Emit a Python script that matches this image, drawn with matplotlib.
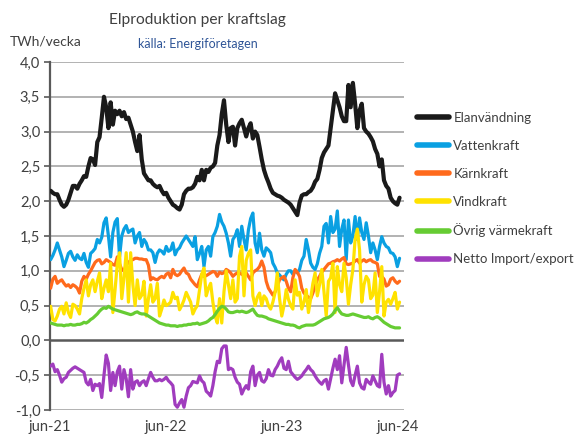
import matplotlib
matplotlib.use("Agg")
import matplotlib.pyplot as plt
from matplotlib.ticker import FuncFormatter
import pandas as pd

plt.rcParams['font.family'] = ['Lato', 'DejaVu Sans']

start_date = "2021-06-03"

elanvandning = [2.15, 2.12, 2.1, 2.1, 2.02, 1.95, 1.92, 1.95, 2.02, 2.12, 2.22, 2.22, 2.18, 2.25, 2.3, 2.36,
                2.35, 2.5, 2.62, 2.6, 2.52, 2.85, 2.92, 3.2, 3.5, 3.35, 3.05, 3.42, 3.1, 3.3, 3.25, 3.3,
                3.22, 3.28, 3.18, 3.2, 3.1, 3.0, 2.85, 2.72, 2.95, 2.6, 2.4, 2.35, 2.3, 2.3, 2.25, 2.22,
                2.2, 2.22, 2.15, 2.1, 2.12, 2.05, 2.0, 1.95, 1.93, 1.9, 1.88, 1.95, 2.1, 2.15, 2.18, 2.18,
                2.2, 2.25, 2.35, 2.3, 2.45, 2.3, 2.45, 2.42, 2.48, 2.5, 2.55, 2.8, 2.95, 3.25, 3.45, 3.1,
                2.85, 3.05, 3.07, 2.8, 3.05, 3.12, 3.17, 3.05, 2.93, 3.05, 3.12, 2.9, 3.0, 2.95, 2.78, 2.6,
                2.45, 2.35, 2.27, 2.18, 2.12, 2.1, 2.08, 2.07, 2.05, 2.02, 2.0, 1.98, 1.95, 1.9, 1.85, 1.8,
                1.98, 2.08, 2.1, 2.1, 2.13, 2.15, 2.2, 2.28, 2.32, 2.45, 2.62, 2.7, 2.75, 2.8, 3.05, 3.3,
                3.55, 3.45, 3.35, 3.22, 3.15, 3.15, 3.67, 3.35, 3.7, 3.4, 3.05, 3.3, 3.4, 3.05, 3.0, 2.97,
                2.92, 2.86, 2.75, 2.68, 2.5, 2.6, 2.3, 2.22, 2.18, 2.05, 2.0, 1.97, 1.95, 2.05]

vattenkraft = [1.16, 1.22, 1.3, 1.4, 1.3, 1.2, 1.06, 1.15, 1.25, 1.28, 1.2, 1.15, 1.23, 1.18, 1.16, 1.25,
               1.12, 1.05, 1.25, 1.28, 1.32, 1.45, 1.4, 1.48, 1.69, 1.76, 1.5, 1.2, 1.55, 1.7, 1.75, 1.2,
               1.5, 1.6, 1.65, 1.55, 1.58, 1.6, 1.4, 1.5, 1.55, 1.35, 1.45, 1.4, 1.3, 1.3, 1.26, 1.12,
               1.25, 1.3, 1.28, 1.24, 1.35, 1.28, 1.3, 1.4, 1.23, 1.3, 1.33, 1.4, 1.45, 1.5, 1.45, 1.4,
               1.35, 1.49, 1.16, 1.25, 1.35, 1.06, 1.3, 1.35, 1.21, 1.49, 1.55, 1.64, 1.81, 1.7, 1.64, 1.54,
               1.4, 1.21, 1.45, 1.5, 1.59, 1.35, 1.64, 1.45, 1.3, 1.59, 1.75, 1.83, 1.4, 1.26, 1.54, 1.3,
               1.21, 1.33, 1.3, 1.26, 1.11, 1.05, 0.97, 0.94, 0.9, 0.87, 0.95, 1.0, 1.0, 0.95, 1.0, 0.97,
               1.02, 1.15, 1.21, 1.45, 1.3, 1.11, 1.05, 1.02, 1.1, 1.25, 1.35, 1.64, 1.68, 1.4, 1.78, 1.55,
               1.6, 1.86, 1.35, 1.6, 1.73, 1.16, 1.73, 1.4, 1.5, 1.78, 1.45, 1.76, 1.55, 1.45, 1.69, 1.5,
               1.26, 1.4, 1.3, 1.16, 1.35, 1.49, 1.4, 1.35, 1.33, 1.26, 1.25, 1.2, 1.06, 1.18]

karnkraft = [0.75, 0.88, 0.92, 0.82, 0.85, 0.87, 0.82, 0.78, 0.8, 0.76, 0.8, 0.78, 0.75, 0.68, 0.85, 0.92,
             0.88, 0.95, 1.0, 1.06, 1.12, 1.15, 1.16, 1.1, 1.12, 1.16, 1.14, 1.12, 1.09, 1.08, 1.2, 1.1,
             1.02, 1.0, 1.08, 1.12, 1.15, 1.16, 1.18, 1.18, 1.17, 1.17, 1.16, 1.16, 1.08, 0.87, 0.9, 0.88,
             0.87, 0.9, 0.92, 0.9, 0.95, 0.97, 0.9, 1.02, 0.95, 0.93, 0.95, 1.0, 1.04, 0.97, 0.95, 0.88,
             0.84, 0.8, 0.77, 0.87, 0.95, 0.92, 0.93, 0.95, 0.97, 0.99, 0.98, 0.92, 0.98, 0.96, 0.97, 1.02,
             1.0, 0.97, 0.92, 0.95, 0.97, 0.97, 0.95, 0.93, 0.97, 0.92, 0.87, 0.97, 1.0, 1.02, 1.06, 1.14,
             1.05, 0.85, 0.75, 0.7, 0.65, 0.7, 0.78, 0.87, 0.9, 0.92, 0.85, 0.75, 0.7, 0.9, 1.02, 0.98,
             0.92, 0.75, 0.68, 0.65, 0.62, 0.6, 0.68, 0.78, 0.87, 0.92, 0.98, 1.02, 1.06, 1.1, 1.11, 1.13,
             1.14, 1.16, 1.14, 1.17, 1.19, 1.1, 1.09, 1.1, 1.11, 1.14, 1.16, 1.11, 1.14, 1.16, 1.13, 1.15,
             1.16, 1.13, 1.12, 1.1, 0.92, 0.92, 0.88, 0.78, 0.8, 0.88, 0.9, 0.85, 0.82, 0.85]

vindkraft = [0.49, 0.3, 0.28, 0.35, 0.45, 0.49, 0.38, 0.54, 0.4, 0.33, 0.52, 0.5, 0.45, 0.38, 0.6, 0.75,
             0.87, 0.64, 0.8, 0.87, 0.7, 0.85, 0.97, 0.6, 0.75, 0.87, 0.7, 1.11, 0.4, 0.73, 1.1, 1.26,
             0.6, 0.9, 1.26, 0.55, 1.26, 0.8, 0.5, 0.87, 0.6, 0.65, 0.85, 0.35, 0.6, 0.8, 0.55, 0.6,
             0.82, 0.35, 0.45, 0.58, 0.5, 0.52, 0.55, 0.69, 0.6, 0.62, 0.44, 0.5, 0.58, 0.69, 0.62, 0.55,
             0.38, 0.45, 0.5, 0.73, 0.95, 1.04, 0.64, 0.75, 0.82, 0.55, 0.35, 0.25, 0.6, 0.25, 0.7, 1.0,
             0.8, 0.6, 0.87, 0.55, 0.6, 1.21, 1.35, 0.64, 1.15, 1.25, 1.3, 0.64, 0.5, 0.62, 0.68, 0.5,
             0.64, 0.6, 0.5, 0.45, 0.55, 0.69, 0.97, 0.6, 0.35, 0.5, 0.73, 0.59, 0.5, 0.45, 0.87, 0.65,
             0.69, 0.45, 0.55, 0.73, 0.4, 0.6, 0.82, 0.97, 0.64, 0.8, 1.02, 0.7, 0.35, 0.85, 0.9, 1.11,
             0.4, 1.06, 0.8, 0.7, 1.11, 0.9, 0.52, 0.8, 1.02, 1.45, 1.6, 1.3, 0.55, 0.8, 0.92, 0.87,
             0.6, 0.65, 0.97, 0.4, 0.7, 1.06, 0.35, 0.55, 0.59, 0.52, 0.6, 0.69, 0.45, 0.55]

ovrig_varmekraft = [0.25, 0.24, 0.23, 0.22, 0.22, 0.22, 0.21, 0.22, 0.22, 0.23, 0.22, 0.22, 0.23, 0.23, 0.24, 0.26,
                    0.25, 0.27, 0.3, 0.32, 0.35, 0.38, 0.42, 0.45, 0.47, 0.46, 0.49, 0.47, 0.45, 0.44, 0.43, 0.42,
                    0.41, 0.4, 0.39, 0.38, 0.37, 0.38, 0.4, 0.41, 0.39, 0.38, 0.38, 0.37, 0.35, 0.33, 0.31, 0.29,
                    0.27, 0.25, 0.24, 0.23, 0.22, 0.22, 0.21, 0.21, 0.21, 0.2, 0.21, 0.21, 0.22, 0.22, 0.23, 0.23,
                    0.24, 0.24, 0.25, 0.23, 0.24, 0.25, 0.26, 0.28, 0.31, 0.33, 0.37, 0.42, 0.46, 0.49, 0.48, 0.45,
                    0.41, 0.4, 0.4, 0.41, 0.42, 0.41, 0.42, 0.41, 0.4, 0.41, 0.43, 0.45, 0.4, 0.36, 0.35, 0.35,
                    0.34, 0.33, 0.31, 0.3, 0.29, 0.28, 0.27, 0.26, 0.25, 0.24, 0.23, 0.23, 0.22, 0.22, 0.21, 0.19,
                    0.18, 0.2, 0.21, 0.22, 0.22, 0.22, 0.22, 0.23, 0.25, 0.27, 0.29, 0.31, 0.32, 0.33, 0.35, 0.38,
                    0.43, 0.47, 0.42, 0.38, 0.37, 0.36, 0.36, 0.37, 0.38, 0.37, 0.36, 0.35, 0.34, 0.33, 0.33, 0.34,
                    0.32, 0.31, 0.33, 0.34, 0.32, 0.29, 0.26, 0.24, 0.22, 0.2, 0.19, 0.18, 0.18, 0.18]

netto_import_export = [-0.37, -0.34, -0.45, -0.42, -0.5, -0.6, -0.55, -0.53, -0.46, -0.43, -0.4, -0.38, -0.4, -0.42, -0.44, -0.46,
                       -0.6, -0.64, -0.56, -0.72, -0.63, -0.65, -0.62, -0.82, -0.5, -0.21, -0.33, -0.72, -0.46, -0.65, -0.45, -0.37,
                       -0.7, -0.42, -0.55, -0.81, -0.42, -0.7, -0.6, -0.58, -0.65, -0.6, -0.58, -0.65, -0.55, -0.46, -0.53, -0.58,
                       -0.58, -0.56, -0.58, -0.56, -0.53, -0.58, -0.61, -0.65, -0.92, -0.96, -0.9, -0.85, -0.96, -0.8, -0.68, -0.65,
                       -0.59, -0.6, -0.61, -0.51, -0.58, -0.61, -0.73, -0.76, -0.8, -0.65, -0.45, -0.3, -0.32, -0.12, -0.08, -0.08,
                       -0.42, -0.4, -0.42, -0.53, -0.6, -0.63, -0.77, -0.7, -0.65, -0.7, -0.45, -0.37, -0.65, -0.5, -0.46, -0.58,
                       -0.6, -0.55, -0.42, -0.5, -0.51, -0.42, -0.37, -0.3, -0.25, -0.4, -0.42, -0.3, -0.45, -0.49, -0.53, -0.56,
                       -0.54, -0.51, -0.46, -0.42, -0.37, -0.42, -0.45, -0.51, -0.56, -0.6, -0.63, -0.58, -0.56, -0.7, -0.55, -0.4,
                       -0.27, -0.42, -0.22, -0.61, -0.35, -0.1, -0.35, -0.58, -0.65, -0.5, -0.37, -0.61, -0.68, -0.7, -0.56, -0.6,
                       -0.63, -0.51, -0.58, -0.65, -0.67, -0.2, -0.6, -0.77, -0.65, -0.8, -0.75, -0.72, -0.5, -0.48]

series_names = ["Elanvändning", "Vattenkraft", "Kärnkraft", "Vindkraft", "Övrig värmekraft", "Netto Import/export"]
series_colors = ["#1a1a1a", "#0aa0e2", "#ff6a1c", "#ffe200", "#66cc33", "#a03cbe"]
series_widths = [3.0, 2.3, 2.3, 2.3, 2.3, 2.3]

x_tick_dates = ["2021-06-01", "2022-06-01", "2023-06-01", "2024-06-01"]
x_tick_labels = ["jun-21", "jun-22", "jun-23", "jun-24"]
y_ticks = [-1.0, -0.5, 0.0, 0.5, 1.0, 1.5, 2.0, 2.5, 3.0, 3.5, 4.0]

all_series = [elanvandning, vattenkraft, karnkraft, vindkraft, ovrig_varmekraft, netto_import_export]
n = len(elanvandning)
dates = pd.date_range(start_date, periods=n, freq="7D")

W, H = 579, 436
fig = plt.figure(figsize=(W / 100, H / 100), dpi=100)
ax = fig.add_axes([50 / W, 1 - 410 / H, 354 / W, 348 / H])

for yt in y_ticks:
    if yt != 0.0:
        ax.axhline(yt, color="#a6a6a6", lw=1.2, zorder=1)
ax.axhline(0.0, color="#595959", lw=1.8, zorder=2)

lines = []
for vals, name, col, lw in zip(all_series, series_names, series_colors, series_widths):
    ln, = ax.plot(dates, vals, color=col, lw=lw, label=name, solid_joinstyle="round",
                  solid_capstyle="round", zorder=3)
    lines.append(ln)

ax.set_ylim(-1.0, 4.0)
ax.set_xlim(pd.Timestamp("2021-06-01"), pd.Timestamp("2024-06-20"))
ax.set_yticks(y_ticks)
ax.yaxis.set_major_formatter(FuncFormatter(lambda v, p: f"{v:.1f}".replace(".", ",")))
ax.set_xticks([pd.Timestamp(d) for d in x_tick_dates])
ax.set_xticklabels(x_tick_labels)
ax.tick_params(axis="x", length=0, pad=7, labelsize=10.5, colors="#404040")
ax.tick_params(axis="y", length=4, width=1.2, color="#595959", pad=3, labelsize=10.5, labelcolor="#404040")

for s in ["top", "right", "bottom"]:
    ax.spines[s].set_visible(False)
ax.spines["left"].set_color("#595959")
ax.spines["left"].set_linewidth(1.6)
ax.patch.set_alpha(0)

fig.text(197 / W, 1 - 20 / H, "Elproduktion per kraftslag", ha="center", va="center",
         fontsize=11.2, color="#404040")
fig.text(198 / W, 1 - 44 / H, "källa: Energiföretagen", ha="center", va="center",
         fontsize=9, color="#2f5597")
fig.text(10 / W, 1 - 42 / H, "TWh/vecka", ha="left", va="center", fontsize=10, color="#404040")

leg = fig.legend(handles=lines, loc="upper left", bbox_to_anchor=(417 / W, 1 - 112 / H),
                 frameon=False, fontsize=9.5, handlelength=2.4, handletextpad=0.35,
                 labelspacing=1.2, borderpad=0, borderaxespad=0)
for t in leg.get_texts():
    t.set_color("#404040")
for lh in leg.get_lines():
    lh.set_linewidth(4)

fig.savefig("out.png", dpi=100)
